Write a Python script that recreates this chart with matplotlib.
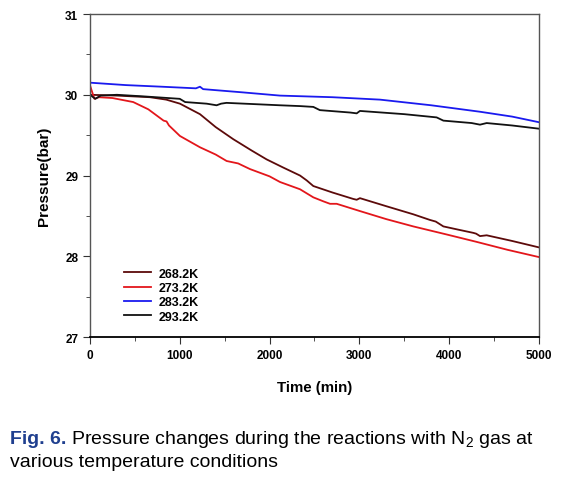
import numpy as np
import matplotlib.pyplot as plt
from matplotlib.ticker import MultipleLocator

plt.rcParams['font.family'] = ['Liberation Sans', 'DejaVu Sans']
plt.rcParams['mathtext.fontset'] = 'custom'
plt.rcParams['mathtext.rm'] = 'Liberation Sans'
plt.rcParams['mathtext.it'] = 'Liberation Sans:italic'
plt.rcParams['mathtext.bf'] = 'Liberation Sans:bold'

# 268.2K
t_268 = [0, 300, 668, 850, 1002, 1225, 1400, 1596, 1800, 1967, 2150, 2339, 2413, 2487, 2700,
         2932, 2970, 3006, 3300, 3600, 3786, 3850, 3935, 4100, 4269, 4300, 4343, 4417, 4700, 5000]
p_268 = [30.0, 29.99, 29.97, 29.94, 29.89, 29.76, 29.60, 29.45, 29.31, 29.20, 29.10, 29.0, 28.94, 28.87, 28.79,
         28.71, 28.70, 28.72, 28.62, 28.52, 28.45, 28.43, 28.37, 28.33, 28.29, 28.28, 28.25, 28.26, 28.19, 28.11]

# 273.2K
t_273 = [0, 20, 50, 100, 250, 482, 650, 820, 853, 880, 1002, 1225, 1400, 1522, 1650, 1782, 2000, 2116,
         2339, 2487, 2600, 2673, 2747, 3006, 3300, 3600, 3972, 4300, 4650, 5000]
p_273 = [30.12, 30.05, 29.95, 29.97, 29.96, 29.91, 29.82, 29.68, 29.67, 29.62, 29.49, 29.35, 29.26, 29.18, 29.15, 29.08, 28.99, 28.92,
         28.83, 28.73, 28.68, 28.65, 28.65, 28.56, 28.46, 28.37, 28.27, 28.18, 28.08, 27.99]

# 283.2K
t_283 = [0, 400, 800, 1180, 1225, 1260, 1700, 2116, 2700, 3229, 3800, 4343, 4700, 5000]
p_283 = [30.15, 30.12, 30.10, 30.08, 30.10, 30.07, 30.03, 29.99, 29.97, 29.94, 29.87, 29.79, 29.73, 29.66]

# 293.2K
t_293 = [0, 60, 120, 300, 600, 1000, 1060, 1300, 1410, 1460, 1520, 2116, 2340, 2487, 2560,
         2900, 2970, 3006, 3500, 3860, 3935, 4250, 4343, 4417, 4700, 5000]
p_293 = [30.0, 29.95, 29.99, 30.0, 29.98, 29.95, 29.91, 29.89, 29.87, 29.89, 29.90, 29.87, 29.86, 29.85, 29.81,
         29.78, 29.77, 29.80, 29.76, 29.72, 29.68, 29.65, 29.63, 29.65, 29.62, 29.58]

series = [
    ("268.2K", t_268, p_268, "#5c0a0a"),
    ("273.2K", t_273, p_273, "#e3161b"),
    ("283.2K", t_283, p_283, "#1a1aef"),
    ("293.2K", t_293, p_293, "#111111"),
]

fig = plt.figure(figsize=(5.84, 4.85), dpi=100)
ax = fig.add_axes([0.154, 0.303, 0.769, 0.666])

for label, t, p, c in series:
    ax.plot(t, p, color=c, lw=1.3, label=label)

ax.set_xlim(0, 5000)
ax.set_ylim(27, 31)
ax.xaxis.set_major_locator(MultipleLocator(1000))
ax.xaxis.set_minor_locator(MultipleLocator(500))
ax.yaxis.set_major_locator(MultipleLocator(1))
ax.yaxis.set_minor_locator(MultipleLocator(0.5))
ax.tick_params(which='both', direction='out', top=False, right=False, color='#333333')
ax.tick_params(which='major', length=5, labelsize=8.5)
ax.tick_params(which='minor', length=3)
for lab in ax.get_xticklabels() + ax.get_yticklabels():
    lab.set_fontweight('bold')

for s in ['left', 'top', 'right']:
    ax.spines[s].set_color('#555555')
    ax.spines[s].set_linewidth(1.0)
ax.spines['bottom'].set_color('black')
ax.spines['bottom'].set_linewidth(1.3)

ax.set_xlabel("Time (min)", fontsize=10.8, fontweight='bold', labelpad=14)
ax.set_ylabel("Pressure(bar)", fontsize=11, fontweight='bold', labelpad=10)

leg = ax.legend(loc='lower left', bbox_to_anchor=(0.05, 0.01), frameon=False,
                prop={'weight': 'bold', 'size': 9}, handlelength=2.2,
                labelspacing=0.18, handletextpad=0.6)

# caption
r = fig.canvas.get_renderer()
t1 = fig.text(0.017, 0.0845, "Fig. 6.", color="#1f3f8f", fontsize=14, fontweight='bold')
bb = t1.get_window_extent(renderer=r)
x2 = fig.transFigure.inverted().transform((bb.x1, bb.y0))[0]
fig.text(x2, 0.0845, " Pressure changes during the reactions with N$_2$ gas at", fontsize=14)
fig.text(0.017, 0.037, "various temperature conditions", fontsize=14)

fig.savefig("out.png", dpi=100)
